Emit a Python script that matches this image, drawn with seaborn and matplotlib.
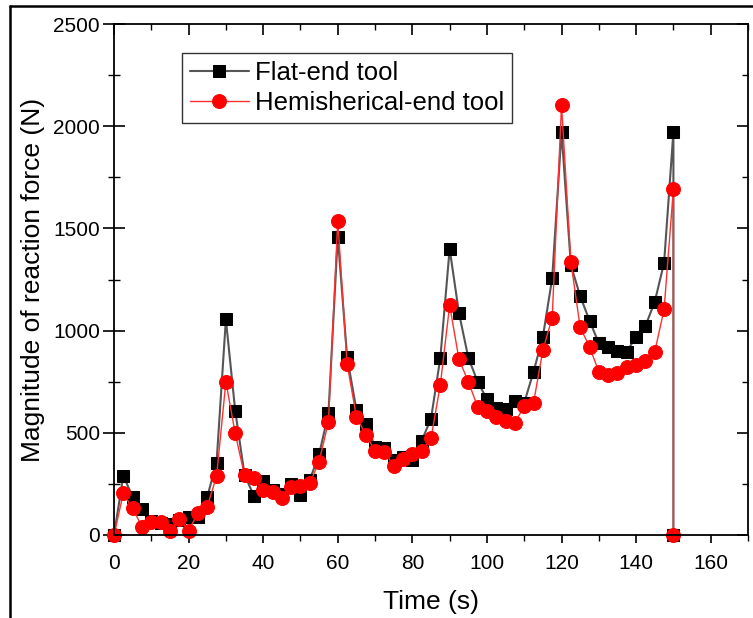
import numpy as np
import pandas as pd
import seaborn as sns
import matplotlib.pyplot as plt
from matplotlib.lines import Line2D
from matplotlib.ticker import MultipleLocator

sns.set_style("ticks")
plt.rcParams["font.family"] = ["Liberation Sans", "DejaVu Sans"]
plt.rcParams["text.color"] = "black"
plt.rcParams["axes.labelcolor"] = "black"
plt.rcParams["xtick.color"] = "black"
plt.rcParams["ytick.color"] = "black"

# marker times (s): every 2.5 s, plus the final drop to zero at 150 s
time = [0, 2.5, 5, 7.5, 10, 12.5, 15, 17.5, 20, 22.5,
        25, 27.5, 30, 32.5, 35, 37.5, 40, 42.5, 45, 47.5,
        50, 52.5, 55, 57.5, 60, 62.5, 65, 67.5, 70, 72.5,
        75, 77.5, 80, 82.5, 85, 87.5, 90, 92.5, 95, 97.5,
        100, 102.5, 105, 107.5, 110, 112.5, 115, 117.5, 120, 122.5,
        125, 127.5, 130, 132.5, 135, 137.5, 140, 142.5, 145, 147.5,
        150, 150]

flat_end = [0, 289, 187, 128, 70, 60, 55, 75, 90, 89,
            187, 354, 1055, 608, 295, 192, 265, 218, 200, 250,
            196, 270, 395, 595, 1460, 872, 612, 541, 432, 424,
            367, 383, 366, 461, 569, 866, 1400, 1086, 868, 750,
            665, 620, 615, 657, 647, 799, 970, 1256, 1973, 1321,
            1169, 1049, 938, 921, 902, 897, 970, 1023, 1141, 1332,
            1973, 0]

hemi_end = [0, 204, 130, 41, 65, 65, 21, 79, 21, 107,
            139, 287, 750, 497, 292, 280, 220, 212, 179, 233,
            240, 253, 359, 554, 1538, 837, 579, 489, 412, 408,
            338, 370, 396, 412, 473, 735, 1124, 860, 750, 628,
            608, 575, 559, 549, 631, 647, 905, 1063, 2104, 1337,
            1016, 921, 799, 783, 791, 823, 832, 851, 897, 1104,
            1693, 0]

df = pd.DataFrame({"t": time, "flat": flat_end, "hemi": hemi_end})

fig = plt.figure(figsize=(7.53, 6.18), dpi=100)
ax = fig.add_axes([114 / 753, 1 - 535 / 618, 634 / 753, 511 / 618])

sns.lineplot(data=df, x="t", y="flat", ax=ax, estimator=None, sort=False,
             color="#555555", linewidth=1.5, marker="s", markersize=9,
             markerfacecolor="black", markeredgecolor="black",
             clip_on=False, label="Flat-end tool")
sns.lineplot(data=df, x="t", y="hemi", ax=ax, estimator=None, sort=False,
             color="#ff3030", linewidth=1.0, marker="o", markersize=10,
             markerfacecolor="red", markeredgecolor="red",
             clip_on=False, label="Hemisherical-end tool")

ax.set_xlim(0, 170)
ax.set_ylim(0, 2500)
ax.xaxis.set_major_locator(MultipleLocator(20))
ax.xaxis.set_minor_locator(MultipleLocator(10))
ax.yaxis.set_major_locator(MultipleLocator(500))
ax.yaxis.set_minor_locator(MultipleLocator(250))

for s in ax.spines.values():
    s.set_visible(True)
    s.set_linewidth(1.3)
    s.set_color("black")

ax.tick_params(axis="x", which="major", direction="out", length=6, width=1.2,
               top=True, labelsize=15, pad=8)
ax.tick_params(axis="x", which="minor", direction="out", length=4, width=1.0, top=True)
ax.tick_params(axis="y", which="major", direction="inout", length=16, width=1.2,
               right=True, labelsize=15, pad=2)
ax.tick_params(axis="y", which="minor", direction="inout", length=9, width=1.0, right=True)
# top and right ticks point inward
for t in ax.xaxis.get_major_ticks():
    t.tick2line.set_marker(3)
    t.tick2line.set_markersize(8)
for t in ax.xaxis.get_minor_ticks():
    t.tick2line.set_marker(3)
    t.tick2line.set_markersize(4)
for t in ax.yaxis.get_major_ticks():
    t.tick2line.set_marker(0)
    t.tick2line.set_markersize(8)
for t in ax.yaxis.get_minor_ticks():
    t.tick2line.set_marker(0)
    t.tick2line.set_markersize(4)

ax.set_xlabel("Time (s)", fontsize=19, labelpad=12)
ax.set_ylabel("Magnitude of reaction force (N)", fontsize=19, labelpad=6)

leg = ax.legend(loc="upper left", bbox_to_anchor=(0.107, 0.943), borderaxespad=0,
                fontsize=18.5, frameon=True, fancybox=False, handlelength=2.3,
                handletextpad=0.25, borderpad=0.3, labelspacing=0.25)
leg.get_frame().set_edgecolor("black")
leg.get_frame().set_linewidth(1.0)

# outer frame of the cropped figure
fig.add_artist(Line2D([10 / 753, 10 / 753], [0, 1 - 6 / 618], color="black", lw=1.8))
fig.add_artist(Line2D([10 / 753, 1], [1 - 6 / 618, 1 - 6 / 618], color="black", lw=1.8))

fig.savefig("out.png", dpi=100)
